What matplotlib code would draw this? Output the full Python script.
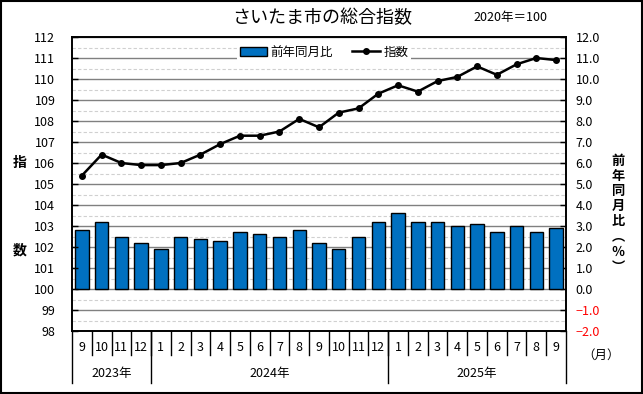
import matplotlib
matplotlib.use("Agg")
import matplotlib.pyplot as plt
from matplotlib.patches import Rectangle
from matplotlib.ticker import MultipleLocator
import matplotlib.transforms as mtransforms

plt.rcParams['font.family'] = ['Noto Sans CJK JP', 'DejaVu Sans']

# データ
months = ['9', '10', '11', '12',
          '1', '2', '3', '4', '5', '6', '7', '8', '9', '10', '11', '12',
          '1', '2', '3', '4', '5', '6', '7', '8', '9']
years = ['2023年', '2024年', '2025年']
year_counts = [4, 12, 9]
index_vals = [105.4, 106.4, 106.0, 105.9, 105.9, 106.0, 106.4, 106.9, 107.3, 107.3,
              107.5, 108.1, 107.7, 108.4, 108.6, 109.3, 109.7, 109.4, 109.9, 110.1,
              110.6, 110.2, 110.7, 111.0, 110.9]
yoy_vals = [2.8, 3.2, 2.5, 2.2, 1.9, 2.5, 2.4, 2.3, 2.7, 2.6, 2.5, 2.8, 2.2,
            1.9, 2.5, 3.2, 3.6, 3.2, 3.2, 3.0, 3.1, 2.7, 3.0, 2.7, 2.9]

W, H = 643, 394
fig = plt.figure(figsize=(W / 100, H / 100), dpi=100)
fig.patch.set_facecolor('white')
fig.patches.append(Rectangle((0.001, 0.002), 0.997, 0.996, transform=fig.transFigure,
                             fill=False, ec='black', lw=1.5))

ax = fig.add_axes([72 / W, (H - 331) / H, (566 - 72) / W, (331 - 37) / H])
ax2 = ax.twinx()
ax.set_zorder(2)
ax2.set_zorder(1)
ax.patch.set_visible(False)

x = list(range(len(months)))

# 前年同月比（棒）
ax2.bar(x, yoy_vals, width=0.68, color='#0070c0', edgecolor='black', lw=1.0,
        label='前年同月比', zorder=3)
ax2.set_ylim(-2, 12)
ax2.yaxis.set_major_locator(MultipleLocator(1))
ax2.yaxis.set_minor_locator(MultipleLocator(0.5))
ax2.grid(True, which='major', axis='y', color='#808080', lw=1.0)
ax2.grid(True, which='minor', axis='y', color='#d0d0d0', lw=0.8, ls=(0, (3, 2)))
ax2.set_axisbelow(True)
ax2.tick_params(axis='y', which='major', direction='in', length=4, width=1,
                labelsize=9, pad=7)
ax2.tick_params(axis='y', which='minor', length=0)
ax2.set_yticks(range(-2, 13))
ax2.set_yticklabels([('%.1f' % v).replace('-', '−') for v in range(-2, 13)])
for t, v in zip(ax2.get_yticklabels(), range(-2, 13)):
    if v < 0:
        t.set_color('red')

# 指数（折れ線）
ax.plot(x, index_vals, color='black', lw=1.8, marker='o', ms=4, label='指数', zorder=5)
ax.set_ylim(98, 112)
ax.set_xlim(-0.5, len(months) - 0.5)
ax.set_yticks(range(98, 113))
ax.tick_params(axis='y', direction='in', length=4, width=1, labelsize=9, pad=12)
ax.set_xticks(x)
ax.set_xticklabels(months)
ax.tick_params(axis='x', length=0, labelsize=9, pad=7)

for a in (ax, ax2):
    for s in a.spines.values():
        s.set_color('black')
        s.set_linewidth(1.2)

# 目盛の区切り線
trans = mtransforms.blended_transform_factory(ax.transData, ax.transAxes)
month_sep = 24 / 294
year_sep = 52 / 294
for i in range(len(months) - 1):
    ax.plot([i + 0.5, i + 0.5], [0, -month_sep], transform=trans, color='black',
            lw=1, clip_on=False)
start = 0
bounds = [-0.5]
for y_label, n in zip(years, year_counts):
    mid = start + (n - 1) / 2
    ax.text(mid, -43 / 294, y_label, transform=trans, ha='center', va='center', fontsize=9)
    start += n
    bounds.append(start - 0.5)
for b in bounds:
    ax.plot([b, b], [0, -year_sep], transform=trans, color='black', lw=1, clip_on=False)

# 凡例
h1, l1 = ax2.get_legend_handles_labels()
h2, l2 = ax.get_legend_handles_labels()
leg = ax.legend(h1 + h2, l1 + l2, loc='upper center', bbox_to_anchor=(0.51, 1.0),
                ncol=2, fontsize=9, frameon=True, facecolor='white', edgecolor='none',
                framealpha=1, handlelength=2.2, handletextpad=0.3, columnspacing=1.5,
                borderpad=0.2)

# タイトル・ラベル
fig.text(322 / W, 1 - 18 / H, 'さいたま市の総合指数', ha='center', va='center', fontsize=13)
fig.text(510 / W, 1 - 17 / H, '2020年＝100', ha='center', va='center', fontsize=9)
fig.text(20 / W, 1 - 163 / H, '指', ha='center', va='center', fontsize=10, fontweight='bold')
fig.text(20 / W, 1 - 250 / H, '数', ha='center', va='center', fontsize=10, fontweight='bold')
right_chars = ['前', '年', '同', '月', '比', '︵', '％', '︶']
right_y = [161, 176, 191, 206, 221, 236, 252, 267]
for c, yy in zip(right_chars, right_y):
    fig.text(618 / W, 1 - yy / H, c, ha='center', va='center', fontsize=9.5,
             fontweight='bold')
fig.text(601 / W, 1 - 355 / H, '（月）', ha='center', va='center', fontsize=9)

fig.savefig('out.png', dpi=100)
